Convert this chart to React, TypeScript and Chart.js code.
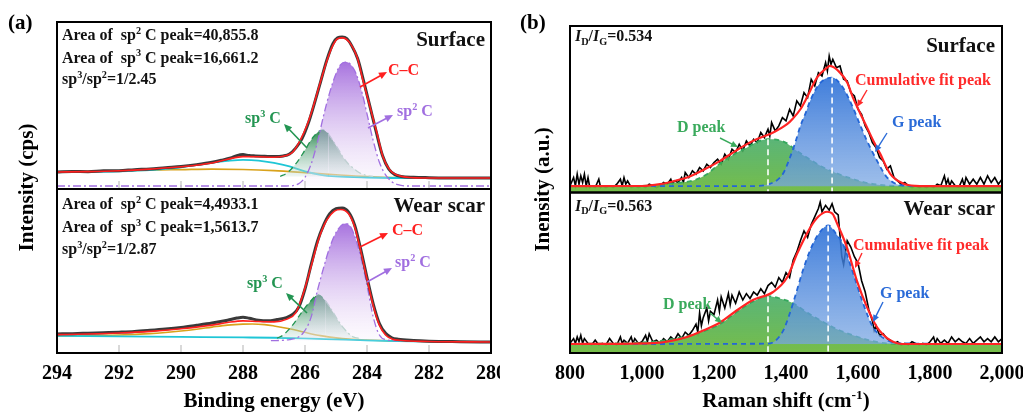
import { useEffect, useRef } from 'react';
import { Chart, registerables } from 'chart.js';

Chart.register(...registerables);

type P = [number, number];

// ================= (a) XPS C 1s : x = binding energy (eV), y = relative intensity (0-100 per sub-panel)
const xpsMin = 280;
const xpsMax = 294;
const xpsStep = 2;

// ---- Surface
const surfExp: P[] = [
  [294, 10.2], [293.5, 10.5], [293, 10.4], [292.5, 10.9], [292, 11.0], [291.5, 11.6], [291, 12.0], [290.5, 12.8],
  [290, 13.5], [289.5, 14.6], [289, 16.0], [288.7, 17.2], [288.4, 18.6], [288.2, 20.0], [288.0, 20.6], [287.8, 20.0],
  [287.6, 19.8], [287.3, 19.6], [287.0, 19.4], [286.7, 19.8], [286.5, 21.0], [286.3, 24.5], [286.1, 30], [285.9, 39],
  [285.7, 51], [285.5, 64], [285.3, 77], [285.1, 87], [284.95, 90.5], [284.8, 91], [284.65, 90], [284.5, 86],
  [284.3, 78], [284.1, 64], [283.9, 49], [283.7, 34], [283.5, 20], [283.3, 12], [283.1, 8.6], [282.9, 7.5],
  [282.5, 7.0], [282, 6.8], [281, 6.6], [280, 6.6],
];
const surfFit: P[] = [
  [294, 10.2], [293, 10.4], [292, 10.9], [291, 11.9], [290, 13.3], [289, 15.6], [288.5, 17.8], [288, 19.4],
  [287.5, 19.3], [287, 19.0], [286.6, 20.0], [286.4, 22], [286.16, 29], [285.94, 38], [285.74, 49], [285.52, 63],
  [285.29, 77], [285.1, 86], [284.95, 90], [284.8, 90.5], [284.55, 87.5], [284.32, 79], [284.13, 65], [283.9, 49],
  [283.68, 33.5], [283.48, 19], [283.26, 11.4], [282.94, 7.8], [282.2, 6.6], [280, 6.6],
];
const surfSp2: P[] = [
  [294, 1.8], [286.6, 1.8], [286.2, 3.2], [286.0, 7], [285.8, 15], [285.6, 28], [285.4, 44], [285.2, 58], [285.0, 69],
  [284.85, 74.5], [284.7, 76], [284.55, 75], [284.35, 69], [284.15, 57], [284.0, 45], [283.8, 29], [283.6, 16],
  [283.4, 8.5], [283.2, 4.3], [283.0, 2.6], [282.7, 1.8], [280, 1.8],
];
const surfSp3: P[] = [
  [286.8, 7.5], [286.58, 9.6], [286.3, 15], [286.06, 21.5], [285.74, 31], [285.55, 34.5], [285.42, 35.3], [285.25, 33],
  [285.1, 29], [284.9, 23], [284.77, 19], [284.6, 15], [284.45, 12.6], [284.23, 9.6], [284.0, 8], [283.8, 7.5],
];
const surfCyan: P[] = [
  [294, 10.2], [293, 10.3], [292, 10.6], [291, 11.3], [290.5, 12], [290, 13], [289.5, 14.5], [289, 15.8], [288.5, 16.8],
  [288, 17.4], [287.5, 17.0], [287, 15.6], [286.5, 13.5], [286, 10.5], [285.5, 8.5], [285, 7.5], [284, 6.9], [282, 6.6],
  [280, 6.6],
];
const surfOrange: P[] = [
  [294, 10.2], [293, 10.5], [292, 10.9], [291, 11.3], [290, 11.6], [289, 11.9], [288, 11.7], [287, 11.0], [286, 9.8],
  [285, 8.5], [284, 7.4], [283, 6.8], [280, 6.6],
];

// ---- Wear scar
const wearExp: P[] = [
  [294, 11.6], [293.5, 11.8], [293, 12.1], [292.5, 12.4], [292, 12.7], [291.5, 13.1], [291, 13.8], [290.5, 14.6],
  [290, 15.6], [289.5, 16.9], [289, 18.3], [288.5, 20.0], [288.2, 21.3], [288, 21.8], [287.8, 21.2], [287.5, 20.0],
  [287.2, 19.6], [286.9, 20.4], [286.6, 21.6], [286.4, 23.5], [286.2, 28], [286.0, 39], [285.8, 54], [285.6, 68],
  [285.4, 78], [285.2, 85], [285.0, 88], [284.8, 88.4], [284.6, 86], [284.4, 78], [284.2, 63], [284.0, 46],
  [283.8, 30], [283.6, 18], [283.4, 12], [283.2, 9.3], [283, 8.4], [282.5, 7.6], [282, 7.2], [281, 6.9], [280, 6.7],
];
const wearFit: P[] = [
  [294, 11.2], [293, 11.6], [292, 12.2], [291, 13.2], [290, 14.8], [289, 17.0], [288.5, 18.6], [288, 19.6],
  [287.5, 19.2], [287, 19.0], [286.6, 20.5], [286.3, 24.5], [286.06, 36], [285.8, 53], [285.55, 70], [285.3, 81],
  [285.05, 86.5], [284.85, 87.5], [284.6, 85], [284.4, 77], [284.2, 62], [284.0, 45], [283.8, 29], [283.6, 17],
  [283.4, 11], [283.2, 8.6], [282.9, 7.6], [282, 7.0], [280, 6.7],
];
const wearSp2: P[] = [
  [287.1, 7.5], [286.5, 8.2], [286.06, 12.2], [285.8, 22], [285.6, 38], [285.4, 52], [285.2, 64.6], [284.95, 75],
  [284.7, 79], [284.5, 76], [284.2, 58.5], [283.97, 38.4], [283.8, 22], [283.6, 11], [283.35, 8], [283.0, 7.5],
];
const wearSp3: P[] = [
  [286.9, 9], [286.7, 11], [286.4, 17], [286.1, 25], [285.85, 31], [285.58, 35.4], [285.35, 32], [285.1, 25],
  [284.85, 17.5], [284.6, 12], [284.45, 9.8], [284.2, 8.8],
];
const wearOrange: P[] = [
  [294, 10.4], [293, 10.7], [292, 11.0], [291, 11.8], [290.5, 12.5], [290, 13.4], [289.5, 14.5], [289, 15.8],
  [288.5, 17.0], [288, 17.6], [287.7, 17.7], [287.3, 17.3], [287, 16.5], [286.5, 14.8], [286, 12.6], [285.5, 10.6],
  [285, 9.2], [284.5, 8.4], [283.5, 7.6], [282, 7.0], [280, 6.7],
];
const wearCyan: P[] = [
  [294, 10.4], [292, 10.1], [290, 9.8], [288, 9.5], [287, 9.3], [286, 8.9], [285, 8.3], [284, 7.7], [283, 7.2],
  [282, 6.9], [280, 6.7],
];

const xpsPeaks = { surfSp2: 76, surfSp2Base: 1.8, surfSp3: 35.3, surfSp3Base: 7.5, surfSp3Pos: 285.42,
  wearSp2: 79, wearSp2Base: 7.5, wearSp3: 35.4, wearSp3Base: 9, wearSp3Pos: 285.58 };

const surfAreaSp2 = '40,855.8';
const surfAreaSp3 = '16,661.2';
const surfRatio = '1/2.45';
const wearAreaSp2 = '4,4933.1';
const wearAreaSp3 = '1,5613.7';
const wearRatio = '1/2.87';

// ================= (b) Raman : x = Raman shift (cm-1), y = relative intensity (0-100 per sub-panel)
const ramanMin = 800;
const ramanMax = 2000;
const ramanStep = 200;

const ramSurfExp: P[] = [
  [800, 4], [810, 9], [815, 4], [820, 11], [825, 5], [830, 10], [835, 6], [840, 11], [845, 4], [850, 9], [855, 3],
  [860, 4], [870, 3], [880, 8], [885, 3], [890, 4], [900, 3], [910, 4], [920, 3], [930, 5], [940, 8], [945, 4],
  [950, 9], [955, 5], [960, 7], [970, 3], [980, 4], [990, 3], [1000, 4], [1010, 3], [1020, 5], [1030, 4], [1040, 3],
  [1050, 4], [1060, 6], [1070, 5], [1080, 8], [1085, 5], [1090, 7], [1100, 6], [1110, 9], [1115, 6], [1120, 12],
  [1130, 9], [1140, 13], [1150, 11], [1160, 15], [1170, 13], [1180, 17], [1190, 15], [1200, 18], [1210, 20],
  [1220, 17], [1230, 23], [1240, 20], [1250, 26], [1260, 24], [1270, 29], [1280, 25], [1290, 31], [1300, 28],
  [1310, 32], [1320, 30], [1330, 36], [1340, 33], [1350, 38], [1355, 34], [1360, 42], [1370, 37], [1380, 40],
  [1390, 45], [1400, 43], [1410, 50], [1420, 46], [1430, 55], [1440, 52], [1450, 60], [1460, 57], [1470, 68],
  [1480, 64], [1490, 72], [1500, 70], [1510, 78], [1515, 73], [1520, 82], [1525, 77], [1530, 80], [1540, 75],
  [1550, 76], [1560, 68], [1570, 67], [1580, 60], [1590, 58], [1600, 50], [1610, 47], [1620, 40], [1630, 36],
  [1640, 30], [1650, 27], [1660, 21], [1670, 19], [1680, 14], [1690, 16], [1700, 9], [1710, 7], [1720, 5],
  [1730, 6], [1740, 4], [1750, 3], [1760, 4], [1770, 3], [1780, 4], [1790, 3], [1800, 4], [1810, 3], [1820, 5],
  [1830, 4], [1840, 10], [1845, 5], [1850, 8], [1855, 4], [1860, 7], [1870, 4], [1880, 3], [1890, 8], [1895, 4],
  [1900, 9], [1910, 5], [1920, 8], [1930, 5], [1940, 9], [1950, 5], [1960, 10], [1970, 6], [1980, 9], [1990, 5],
  [2000, 8],
];
const ramSurfFit: P[] = [
  [800, 3.8], [1000, 3.9], [1050, 5], [1100, 7.5], [1125, 9], [1170, 13.5], [1217, 19], [1260, 25], [1308, 31],
  [1364, 36], [1403, 41], [1420, 44.6], [1440, 50], [1458, 57], [1486, 69], [1514, 75], [1522, 76], [1550, 72],
  [1570, 66], [1586, 57], [1605, 48], [1625, 39], [1645, 30], [1661, 23.5], [1689, 11.4], [1725, 5.4], [1760, 4],
  [1819, 3.8], [2000, 3.8],
];
const ramSurfD: P[] = [
  [800, 3.8], [1000, 4], [1080, 5.5], [1142, 7.2], [1180, 11], [1217, 17.5], [1260, 23.5], [1292, 27], [1320, 30.5],
  [1350, 32], [1380, 31.5], [1403, 29.5], [1430, 25], [1458, 21], [1500, 15.5], [1542, 11.4], [1590, 7.8],
  [1633, 5.4], [1700, 4], [2000, 3.8],
];
const ramSurfG: P[] = [
  [800, 3.8], [1300, 3.8], [1364, 6], [1392, 11.4], [1411, 21], [1425, 29.5], [1440, 40], [1455, 48], [1467, 55],
  [1494, 65.6], [1528, 69], [1558, 63], [1586, 51], [1605, 41], [1625, 31], [1653, 19], [1681, 9], [1725, 4.2],
  [1780, 3.8], [2000, 3.8],
];

const ramWearExp: P[] = [
  [800, 6], [810, 9], [815, 6], [820, 10], [825, 7], [830, 11], [835, 6], [840, 9], [850, 6], [860, 5], [870, 8],
  [880, 5], [890, 6], [900, 5], [910, 9], [920, 6], [930, 5], [940, 10], [945, 6], [950, 8], [960, 6], [970, 10],
  [975, 6], [980, 9], [990, 6], [1000, 7], [1010, 11], [1015, 7], [1020, 12], [1030, 7], [1040, 8], [1050, 6],
  [1060, 9], [1070, 7], [1080, 10], [1090, 8], [1100, 12], [1110, 9], [1120, 13], [1130, 11], [1140, 14], [1150, 18],
  [1155, 13], [1160, 25], [1165, 17], [1170, 22], [1180, 28], [1185, 20], [1190, 26], [1200, 24], [1210, 33],
  [1215, 26], [1220, 35], [1230, 28], [1240, 37], [1245, 30], [1250, 36], [1260, 31], [1270, 38], [1280, 33],
  [1290, 37], [1300, 34], [1310, 38], [1320, 36], [1330, 40], [1340, 37], [1350, 42], [1360, 44], [1370, 41],
  [1380, 47], [1390, 44], [1400, 50], [1410, 47], [1420, 58], [1430, 63], [1440, 70], [1450, 76], [1460, 72],
  [1470, 80], [1480, 85], [1490, 90], [1495, 94], [1500, 88], [1510, 92], [1520, 89], [1528, 93], [1535, 88],
  [1545, 86], [1555, 60], [1560, 55], [1570, 70], [1580, 66], [1590, 60], [1600, 56], [1610, 45], [1620, 38],
  [1630, 27], [1640, 20], [1645, 14], [1650, 17], [1660, 11], [1670, 12], [1680, 9], [1690, 8], [1700, 6], [1710, 7],
  [1720, 5], [1730, 6], [1740, 5], [1750, 7], [1760, 6], [1770, 5], [1780, 6], [1790, 5], [1800, 7], [1810, 10],
  [1815, 6], [1820, 9], [1830, 6], [1840, 8], [1850, 6], [1860, 10], [1870, 7], [1880, 9], [1890, 7], [1900, 6],
  [1910, 9], [1920, 6], [1930, 8], [1940, 10], [1950, 7], [1960, 9], [1970, 7], [1980, 10], [1990, 7], [2000, 9],
];
const ramWearFit: P[] = [
  [800, 5.6], [1031, 6.2], [1080, 7.5], [1125, 10], [1170, 14], [1217, 19], [1260, 26], [1308, 33], [1364, 38],
  [1403, 47], [1431, 62], [1467, 78], [1490, 85], [1514, 88], [1530, 86.5], [1542, 80.7], [1569, 66], [1597, 45],
  [1625, 28.6], [1653, 16], [1689, 8], [1725, 5.6], [2000, 5.6],
];
const ramWearD: P[] = [
  [800, 5.6], [1031, 7], [1125, 10.5], [1170, 13.5], [1217, 18], [1260, 25], [1300, 31], [1350, 35.4], [1390, 33.5],
  [1420, 31], [1460, 25], [1494, 20.5], [1540, 15], [1586, 11], [1630, 8], [1681, 6], [1750, 5.6], [2000, 5.6],
];
const ramWearG: P[] = [
  [800, 5.6], [1350, 5.8], [1390, 13], [1411, 25], [1425, 35], [1447, 51.5], [1467, 64], [1490, 74], [1517, 79.5],
  [1540, 74], [1558, 68], [1586, 50], [1614, 31], [1642, 16], [1681, 8], [1725, 6], [2000, 5.6],
];

const ramanPeaks = {
  surfDPos: 1350, surfDVal: 32, surfGPos: 1528, surfGVal: 69, surfBase: 3.8,
  wearDPos: 1350, wearDVal: 35.4, wearGPos: 1517, wearGVal: 79.5, wearBase: 5.6,
};
const surfIdIg = '0.534';
const wearIdIg = '0.563';

// ================= drawing helpers
const FAM = '"Liberation Serif", "Times New Roman", serif';
const fnt = (size: number, italic = false) => `${italic ? 'italic ' : ''}bold ${size}px ${FAM}`;
type Seg = { t: string; v?: 'sup' | 'sub'; it?: boolean };

function drawRich(ctx: CanvasRenderingContext2D, segs: Seg[], x: number, y: number, size: number, color: string,
  align: 'left' | 'right' | 'center' = 'left') {
  ctx.save();
  ctx.fillStyle = color;
  ctx.textBaseline = 'alphabetic';
  ctx.textAlign = 'left';
  const parts = segs.map((s) => {
    const sz = s.v ? size * 0.64 : size;
    ctx.font = fnt(sz, s.it);
    return { s, sz, w: ctx.measureText(s.t).width };
  });
  const total = parts.reduce((a, p) => a + p.w, 0);
  let cx = align === 'left' ? x : align === 'right' ? x - total : x - total / 2;
  for (const p of parts) {
    ctx.font = fnt(p.sz, p.s.it);
    const dy = p.s.v === 'sup' ? -size * 0.4 : p.s.v === 'sub' ? size * 0.22 : 0;
    ctx.fillText(p.s.t, cx, y + dy);
    cx += p.w;
  }
  ctx.restore();
}

function arrow(ctx: CanvasRenderingContext2D, x1: number, y1: number, x2: number, y2: number, color: string,
  lw = 1.6, head = 8) {
  const a = Math.atan2(y2 - y1, x2 - x1);
  const c = Math.cos(a), s = Math.sin(a);
  ctx.save();
  ctx.strokeStyle = color;
  ctx.fillStyle = color;
  ctx.lineWidth = lw;
  ctx.beginPath();
  ctx.moveTo(x1, y1);
  ctx.lineTo(x2 - c * head * 0.7, y2 - s * head * 0.7);
  ctx.stroke();
  ctx.beginPath();
  ctx.moveTo(x2, y2);
  ctx.lineTo(x2 - head * c + head * 0.45 * s, y2 - head * s - head * 0.45 * c);
  ctx.lineTo(x2 - head * c - head * 0.45 * s, y2 - head * s + head * 0.45 * c);
  ctx.closePath();
  ctx.fill();
  ctx.restore();
}

function vTitle(ctx: CanvasRenderingContext2D, text: string, x: number, y: number, size: number) {
  ctx.save();
  ctx.translate(x, y);
  ctx.rotate(-Math.PI / 2);
  ctx.font = fnt(size);
  ctx.fillStyle = '#000';
  ctx.textAlign = 'center';
  ctx.textBaseline = 'alphabetic';
  ctx.fillText(text, 0, 0);
  ctx.restore();
}

const pts = (a: P[]) => a.map(([x, y]) => ({ x, y }));

function grad(yId: string, vTop: number, vBot: number, c1: string, c2: string) {
  return (ctx: any) => {
    const chart = ctx.chart;
    const s = chart.scales && chart.scales[yId];
    if (!chart.chartArea || !s) return c2;
    const g = chart.ctx.createLinearGradient(0, s.getPixelForValue(vTop), 0, s.getPixelForValue(vBot));
    g.addColorStop(0, c1);
    g.addColorStop(1, c2);
    return g;
  };
}

function ds(data: P[], yAxisID: string, color: string, width: number, order: number, extra: any = {}) {
  return {
    type: 'line', data: pts(data), yAxisID, borderColor: color, borderWidth: width, pointRadius: 0,
    fill: false, tension: 0, order, ...extra,
  };
}

const smooth = { cubicInterpolationMode: 'monotone' };

function yStack(stack: string, weight: number) {
  return {
    type: 'linear', position: 'left', stack, stackWeight: weight, min: 0, max: 100,
    ticks: { display: false }, grid: { display: false, drawTicks: false }, border: { display: false },
    afterFit: (s: any) => { s.width = 0; },
  };
}

function xAxis(min: number, max: number, step: number, reverse: boolean, fmt: (v: number) => string) {
  return {
    type: 'linear', position: 'bottom', min, max, reverse,
    ticks: {
      stepSize: step, autoSkip: false, maxRotation: 0, padding: 9, color: '#000',
      font: { family: FAM, size: 20, weight: 'bold' }, callback: (v: any) => fmt(Number(v)),
    },
    grid: { display: false, drawTicks: false }, border: { display: false },
    afterFit: (s: any) => { s.height = 60; s.paddingLeft = 0; s.paddingRight = 0; },
  };
}

// ================= (a) config
const PURPLE = '#a16fe0';
const GREEN3 = '#239552';
const RED = '#ff1f1f';

function xpsConfig(): any {
  const P2 = xpsPeaks;
  const sp3Seg = (pos: number) => ({
    borderColor: (c: any) => (c.p0.parsed.x < pos ? '#a8cfbd' : GREEN3),
    borderDash: (c: any) => (c.p0.parsed.x < pos ? [7, 3, 2, 3] : [6, 4]),
  });
  const datasets = [
    ds(surfOrange, 'yA', '#d9a21b', 1.6, 6, smooth),
    ds(surfCyan, 'yA', '#1fc6d6', 1.8, 5, smooth),
    ds(surfSp3, 'yA', GREEN3, 1.3, 4, {
      ...smooth, borderDash: [6, 4], fill: { value: P2.surfSp3Base }, segment: sp3Seg(P2.surfSp3Pos),
      backgroundColor: grad('yA', P2.surfSp3, P2.surfSp3Base, 'rgba(28,128,66,0.95)', 'rgba(205,228,222,0.35)'),
    }),
    ds(surfSp2, 'yA', PURPLE, 1.3, 3, {
      ...smooth, borderDash: [8, 3, 2, 3], fill: { value: P2.surfSp2Base },
      backgroundColor: grad('yA', P2.surfSp2, P2.surfSp2Base, 'rgba(155,95,218,0.88)', 'rgba(246,236,250,0.25)'),
    }),
    ds(surfExp, 'yA', '#3a3a3a', 3, 2, smooth),
    ds(surfFit, 'yA', RED, 1.6, 1, smooth),

    ds(wearOrange, 'yB', '#d9a21b', 1.6, 6, smooth),
    ds(wearCyan, 'yB', '#1fc6d6', 1.8, 5, smooth),
    ds(wearSp3, 'yB', GREEN3, 1.3, 4, {
      ...smooth, borderDash: [6, 4], fill: { value: P2.wearSp3Base }, segment: sp3Seg(P2.wearSp3Pos),
      backgroundColor: grad('yB', P2.wearSp3, P2.wearSp3Base, 'rgba(28,128,66,0.95)', 'rgba(205,228,222,0.35)'),
    }),
    ds(wearSp2, 'yB', PURPLE, 1.3, 3, {
      ...smooth, borderDash: [8, 3, 2, 3], fill: { value: P2.wearSp2Base },
      backgroundColor: grad('yB', P2.wearSp2, P2.wearSp2Base, 'rgba(155,95,218,0.88)', 'rgba(246,236,250,0.25)'),
    }),
    ds(wearExp, 'yB', '#3a3a3a', 3, 2, smooth),
    ds(wearFit, 'yB', RED, 1.6, 1, smooth),
  ];

  const decor = {
    id: 'xpsDecor',
    afterDraw(chart: any) {
      const ctx: CanvasRenderingContext2D = chart.ctx;
      const x = chart.scales.x;
      const subs = [chart.scales.yA, chart.scales.yB];
      const L = chart.chartArea.left, R = chart.chartArea.right;
      ctx.save();
      ctx.strokeStyle = '#cdcdcd';
      ctx.lineWidth = 1.5;
      for (const s of subs) {
        x.ticks.forEach((t: any, i: number) => {
          if (i === 0 || i === x.ticks.length - 1) return;
          const px = x.getPixelForValue(t.value);
          ctx.beginPath();
          ctx.moveTo(px, s.bottom - 1);
          ctx.lineTo(px, s.bottom - 8);
          ctx.stroke();
        });
      }
      ctx.strokeStyle = '#000';
      ctx.lineWidth = 2;
      for (const s of subs) ctx.strokeRect(L, s.top, R - L, s.bottom - s.top);
      ctx.restore();

      const [A, B] = subs;
      const k = '#111';
      // Surface
      drawRich(ctx, [{ t: 'Area of  sp' }, { t: '2', v: 'sup' }, { t: ' C peak=' + surfAreaSp2 }], L + 5, A.top + 18, 16, k);
      drawRich(ctx, [{ t: 'Area of  sp' }, { t: '3', v: 'sup' }, { t: ' C peak=' + surfAreaSp3 }], L + 5, A.top + 40.5, 16, k);
      drawRich(ctx, [{ t: 'sp' }, { t: '3', v: 'sup' }, { t: '/sp' }, { t: '2', v: 'sup' }, { t: '=' + surfRatio }], L + 5, A.top + 62, 16, k);
      drawRich(ctx, [{ t: 'Surface' }], R - 6, A.top + 24, 21, k, 'right');
      drawRich(ctx, [{ t: 'C–C' }], L + 331, A.top + 53, 16, RED);
      arrow(ctx, L + 303, A.top + 65, L + 330, A.top + 50, RED);
      drawRich(ctx, [{ t: 'sp' }, { t: '2', v: 'sup' }, { t: ' C' }], L + 340, A.top + 94, 16, PURPLE);
      arrow(ctx, L + 311, A.top + 106, L + 336, A.top + 93, PURPLE);
      drawRich(ctx, [{ t: 'sp' }, { t: '3', v: 'sup' }, { t: ' C' }], L + 188, A.top + 101, 16, GREEN3);
      arrow(ctx, L + 250, A.top + 126, L + 227, A.top + 102, GREEN3);
      // Wear scar
      drawRich(ctx, [{ t: 'Area of  sp' }, { t: '2', v: 'sup' }, { t: ' C peak=' + wearAreaSp2 }], L + 5, B.top + 20, 16, k);
      drawRich(ctx, [{ t: 'Area of  sp' }, { t: '3', v: 'sup' }, { t: ' C peak=' + wearAreaSp3 }], L + 5, B.top + 43, 16, k);
      drawRich(ctx, [{ t: 'sp' }, { t: '3', v: 'sup' }, { t: '/sp' }, { t: '2', v: 'sup' }, { t: '=' + wearRatio }], L + 5, B.top + 65, 16, k);
      drawRich(ctx, [{ t: 'Wear scar' }], R - 6, B.top + 23, 21, k, 'right');
      drawRich(ctx, [{ t: 'C–C' }], L + 335, B.top + 46, 16, RED);
      arrow(ctx, L + 303, B.top + 58, L + 331, B.top + 44, RED);
      drawRich(ctx, [{ t: 'sp' }, { t: '2', v: 'sup' }, { t: ' C' }], L + 338, B.top + 78, 16, PURPLE);
      arrow(ctx, L + 310, B.top + 93, L + 335, B.top + 79, PURPLE);
      drawRich(ctx, [{ t: 'sp' }, { t: '3', v: 'sup' }, { t: ' C' }], L + 190, B.top + 99, 16, GREEN3);
      arrow(ctx, L + 250, B.top + 124, L + 229, B.top + 104, GREEN3);

      // panel label and axis titles
      drawRich(ctx, [{ t: '(a)' }], 8, 29, 21, '#000');
      vTitle(ctx, 'Intensity (cps)', 33, (A.top + B.bottom) / 2, 21);
      drawRich(ctx, [{ t: 'Binding energy (eV)' }], (L + R) / 2, 407, 21, '#000', 'center');
    },
  };

  return {
    type: 'line',
    data: { datasets },
    options: {
      animation: false, responsive: false, events: [],
      layout: { padding: { left: 57, top: 22, right: 9, bottom: 0 } },
      plugins: { legend: { display: false }, tooltip: { enabled: false } },
      scales: {
        x: xAxis(xpsMin, xpsMax, xpsStep, true, (v) => String(v)),
        yB: yStack('xps', 164),
        yA: yStack('xps', 167),
      },
    },
    plugins: [decor],
  };
}

// ================= (b) config
const DGREEN = '#36a85e';
const GBLUE = '#2466d6';

function ramanConfig(): any {
  const R = ramanPeaks;
  const datasets = [
    ds(ramSurfExp, 'yA', '#000', 1.6, 4),
    ds(ramSurfD, 'yA', DGREEN, 1.8, 3, {
      ...smooth, borderDash: [5, 4], fill: 'origin',
      backgroundColor: grad('yA', R.surfDVal, 0, 'rgba(62,168,96,0.85)', 'rgba(112,186,62,0.95)'),
    }),
    ds(ramSurfG, 'yA', GBLUE, 1.8, 2, {
      ...smooth, borderDash: [5, 4], fill: { value: R.surfBase },
      backgroundColor: grad('yA', R.surfGVal, R.surfBase, 'rgba(38,108,214,0.88)', 'rgba(120,165,226,0.72)'),
    }),
    ds(ramSurfFit, 'yA', '#ff2424', 2.2, 1, smooth),

    ds(ramWearExp, 'yB', '#000', 1.6, 4),
    ds(ramWearD, 'yB', DGREEN, 1.8, 3, {
      ...smooth, borderDash: [5, 4], fill: 'origin',
      backgroundColor: grad('yB', R.wearDVal, 0, 'rgba(62,168,96,0.85)', 'rgba(112,186,62,0.95)'),
    }),
    ds(ramWearG, 'yB', GBLUE, 1.8, 2, {
      ...smooth, borderDash: [5, 4], fill: { value: R.wearBase },
      backgroundColor: grad('yB', R.wearGVal, R.wearBase, 'rgba(38,108,214,0.88)', 'rgba(120,165,226,0.72)'),
    }),
    ds(ramWearFit, 'yB', '#ff2424', 2.2, 1, smooth),
  ];

  const decor = {
    id: 'ramanDecor',
    afterDatasetsDraw(chart: any) {
      const ctx: CanvasRenderingContext2D = chart.ctx;
      const x = chart.scales.x;
      const A = chart.scales.yA, B = chart.scales.yB;
      const lines: [any, number, number][] = [
        [A, R.surfDPos, R.surfDVal], [A, R.surfGPos, R.surfGVal], [B, R.wearDPos, R.wearDVal], [B, R.wearGPos, R.wearGVal],
      ];
      ctx.save();
      ctx.strokeStyle = '#fff';
      ctx.lineWidth = 1.6;
      ctx.setLineDash([6, 4]);
      for (const [s, pos, val] of lines) {
        const px = x.getPixelForValue(pos);
        ctx.beginPath();
        ctx.moveTo(px, s.getPixelForValue(val));
        ctx.lineTo(px, s.bottom);
        ctx.stroke();
      }
      ctx.restore();
    },
    afterDraw(chart: any) {
      const ctx: CanvasRenderingContext2D = chart.ctx;
      const A = chart.scales.yA, B = chart.scales.yB;
      const L = chart.chartArea.left, Rt = chart.chartArea.right;
      ctx.save();
      ctx.strokeStyle = '#000';
      ctx.lineWidth = 2;
      for (const s of [A, B]) ctx.strokeRect(L, s.top, Rt - L, s.bottom - s.top);
      ctx.restore();
      const k = '#111';
      const red = '#ff2a2a', green = '#3aaa5c', blue = '#2a6bd8';
      // Surface
      drawRich(ctx, [{ t: 'I', it: true }, { t: 'D', v: 'sub' }, { t: '/' }, { t: 'I', it: true }, { t: 'G', v: 'sub' }, { t: '=' + surfIdIg }], L + 5, A.top + 15, 16, k);
      drawRich(ctx, [{ t: 'Surface' }], Rt - 7, A.top + 26, 21, k, 'right');
      drawRich(ctx, [{ t: 'Cumulative fit peak' }], L + 285, A.top + 59, 16, red);
      arrow(ctx, L + 297, A.top + 64, L + 287, A.top + 81, red, 1.4, 7);
      drawRich(ctx, [{ t: 'G peak' }], L + 322, A.top + 101, 16, blue);
      arrow(ctx, L + 317, A.top + 107, L + 305, A.top + 126, blue, 1.4, 7);
      drawRich(ctx, [{ t: 'D peak' }], L + 107, A.top + 106, 16, green);
      arrow(ctx, L + 150, A.top + 112, L + 168, A.top + 121, green, 1.4, 7);
      // Wear scar
      drawRich(ctx, [{ t: 'I', it: true }, { t: 'D', v: 'sub' }, { t: '/' }, { t: 'I', it: true }, { t: 'G', v: 'sub' }, { t: '=' + wearIdIg }], L + 5, B.top + 18, 16, k);
      drawRich(ctx, [{ t: 'Wear scar' }], Rt - 7, B.top + 22.5, 21, k, 'right');
      drawRich(ctx, [{ t: 'Cumulative fit peak' }], L + 283, B.top + 57.5, 16, red);
      arrow(ctx, L + 292, B.top + 60.5, L + 285, B.top + 75.5, red, 1.4, 7);
      drawRich(ctx, [{ t: 'G peak' }], L + 310, B.top + 105.5, 16, blue);
      arrow(ctx, L + 313, B.top + 109.5, L + 303, B.top + 129.5, blue, 1.4, 7);
      drawRich(ctx, [{ t: 'D peak' }], L + 93, B.top + 116.5, 16, green);
      arrow(ctx, L + 140, B.top + 120.5, L + 152, B.top + 130.5, green, 1.4, 7);

      drawRich(ctx, [{ t: '(b)' }], 20, 29, 21, '#000');
      vTitle(ctx, 'Inensity (a.u.)', 49, (A.top + B.bottom) / 2, 21);
      drawRich(ctx, [{ t: 'Raman shift (cm' }, { t: '-1', v: 'sup' }, { t: ')' }], (L + Rt) / 2, 407, 21, '#000', 'center');
    },
  };

  return {
    type: 'line',
    data: { datasets },
    options: {
      animation: false, responsive: false, events: [],
      layout: { padding: { left: 70, top: 26, right: 21, bottom: 0 } },
      plugins: { legend: { display: false }, tooltip: { enabled: false } },
      scales: {
        x: xAxis(ramanMin, ramanMax, ramanStep, false, (v) => v.toLocaleString('en-US')),
        yB: yStack('raman', 160.5),
        yA: yStack('raman', 166.5),
      },
    },
    plugins: [decor],
  };
}

export default function App() {
  const leftRef = useRef<HTMLCanvasElement>(null);
  const rightRef = useRef<HTMLCanvasElement>(null);
  useEffect(() => {
    const c1 = new Chart(leftRef.current as HTMLCanvasElement, xpsConfig());
    const c2 = new Chart(rightRef.current as HTMLCanvasElement, ramanConfig());
    return () => {
      c1.destroy();
      c2.destroy();
    };
  }, []);
  return (
    <div style={{ position: 'absolute', left: 0, top: 0, width: 1023, height: 413, background: '#fff', overflow: 'hidden' }}>
      <canvas ref={leftRef} width={500} height={413} style={{ position: 'absolute', left: 0, top: 0, width: 500, height: 413 }} />
      <canvas ref={rightRef} width={523} height={413} style={{ position: 'absolute', left: 500, top: 0, width: 523, height: 413 }} />
    </div>
  );
}
